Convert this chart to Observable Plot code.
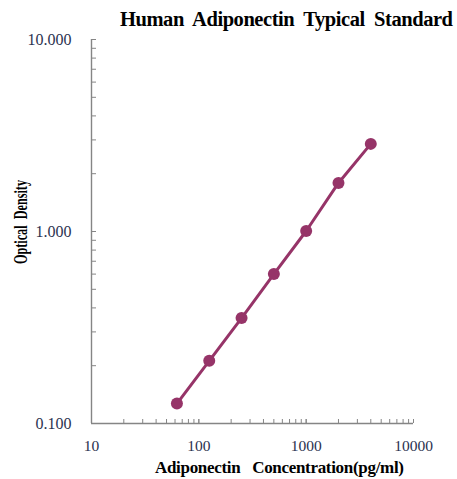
<!DOCTYPE html>
<html><head><meta charset="utf-8">
<script src="https://cdn.jsdelivr.net/npm/d3@7"></script>
<script src="https://cdn.jsdelivr.net/npm/@observablehq/plot@0.6"></script>
<style>body{margin:0;background:#fff}</style>
</head><body><div id="chart"></div>
<script>
const concentration = [62.5, 125, 250, 500, 1000, 2000, 4000];
const opticalDensity = [0.127, 0.212, 0.354, 0.600, 1.006, 1.79, 2.86];
const xMajorTicks = [10, 100, 1000, 10000];
const yMajorTicks = [0.1, 1, 10];
const title = "Human  Adiponectin  Typical  Standard";
const xLabel = "Adiponectin   Concentration(pg/ml)";
const yLabel = "Optical  Density";

const data = concentration.map((c, i) => ({c, od: opticalDensity[i]}));
const minor = (lo, hi) => { const t = []; for (let d = lo; d < hi; d *= 10) for (let k = 1; k <= 10; k++) t.push(+(d * k).toPrecision(3)); return t; };
const xMinor = minor(10, 10000);
const yMinor = minor(0.1, 10);
const lineColor = "#963468";
const axisColor = "#858585";
const labelColor = "#2b3350";
const font = "'Liberation Serif', 'Times New Roman', serif";

const plot = Plot.plot({
  width: 457, height: 479,
  marginLeft: 91, marginRight: 44, marginTop: 39, marginBottom: 56,
  style: {fontFamily: font, fontSize: "15px", background: "#fff"},
  x: {type: "log", domain: [10, 10000]},
  y: {type: "log", domain: [0.1, 10]},
  marks: [
    Plot.axisX({ticks: xMinor, tickSize: -4, text: null, stroke: axisColor, label: null}),
    Plot.axisX({ticks: xMajorTicks, tickSize: 0, tickPadding: 16, tickFormat: d3.format("d"), fill: labelColor, label: null, fontSize: 15.5, letterSpacing: 0.6}),
    Plot.axisY({ticks: yMinor, tickSize: -5, text: null, stroke: axisColor, label: null}),
    Plot.axisY({ticks: yMajorTicks, tickSize: 0, tickPadding: 20, tickFormat: d3.format(".3f"), fill: labelColor, label: null, fontSize: 16, letterSpacing: 0.4}),
    Plot.ruleX([10], {stroke: axisColor, strokeWidth: 1.4}),
    Plot.ruleY([0.1], {stroke: axisColor, strokeWidth: 1.4}),
    Plot.line(data, {x: "c", y: "od", stroke: lineColor, strokeWidth: 3}),
    Plot.dot(data, {x: "c", y: "od", fill: lineColor, r: 6})
  ]
});
const svg = d3.select(plot);
svg.append("text").attr("x", 120).attr("y", 26).attr("text-anchor", "start")
  .attr("font-family", font).attr("font-weight", "bold").attr("font-size", 20.5).attr("fill", "#000")
  .attr("textLength", 333).attr("lengthAdjust", "spacing")
  .style("white-space", "pre").text(title);
svg.append("text").attr("x", 155).attr("y", 473).attr("text-anchor", "start")
  .attr("font-family", font).attr("font-weight", "bold").attr("font-size", 17).attr("fill", "#000")
  .attr("textLength", 249).attr("lengthAdjust", "spacing")
  .style("white-space", "pre").text(xLabel);
svg.append("text").attr("transform", "translate(27,264) rotate(-90)").attr("text-anchor", "start")
  .attr("font-family", font).attr("font-weight", "bold").attr("font-size", 19.5).attr("fill", "#000")
  .attr("textLength", 84).attr("lengthAdjust", "spacingAndGlyphs")
  .style("white-space", "pre").text(yLabel);
document.getElementById("chart").appendChild(plot);
</script></body></html>
